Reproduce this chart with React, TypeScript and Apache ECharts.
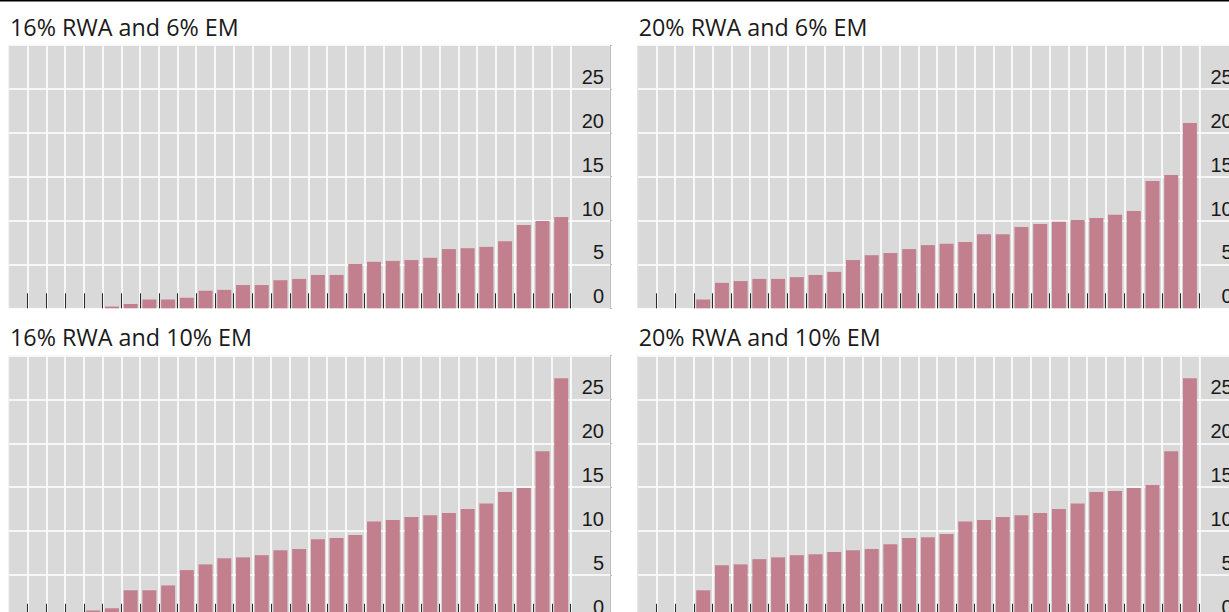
import { useEffect, useRef } from 'react';
import * as echarts from 'echarts';

// 30 banks, sorted by shortfall
const banks = ['1','2','3','4','5','6','7','8','9','10','11','12','13','14','15','16','17','18','19','20','21','22','23','24','25','26','27','28','29','30'];

const rwa16em6 = [0, 0, 0, 0, 0, 0.2, 0.5, 1.0, 1.0, 1.2, 2.0, 2.1, 2.65, 2.65, 3.2, 3.35, 3.8, 3.8, 5.05, 5.3, 5.4, 5.5, 5.75, 6.75, 6.85, 7.0, 7.65, 9.5, 9.95, 10.4];
const rwa20em6 = [0, 0, 0, 1.0, 2.9, 3.1, 3.35, 3.35, 3.55, 3.8, 4.15, 5.5, 6.05, 6.3, 6.75, 7.2, 7.35, 7.55, 8.45, 8.45, 9.25, 9.6, 9.85, 10.05, 10.3, 10.65, 11.1, 14.5, 15.2, 21.1];
const rwa16em10 = [0, 0, 0, 0, 0.95, 1.2, 3.25, 3.25, 3.8, 5.55, 6.2, 6.9, 7.0, 7.25, 7.8, 7.95, 9.05, 9.2, 9.55, 11.1, 11.25, 11.6, 11.8, 12.05, 12.5, 13.15, 14.45, 14.9, 19.1, 27.4];
const rwa20em10 = [0, 0, 0, 3.25, 6.1, 6.2, 6.8, 7.0, 7.25, 7.35, 7.6, 7.8, 7.95, 8.5, 9.2, 9.3, 9.65, 11.1, 11.25, 11.6, 11.8, 12.05, 12.5, 13.15, 14.45, 14.55, 14.9, 15.25, 19.1, 27.4];

const panelTitles = ['16% RWA and 6% EM', '20% RWA and 6% EM', '16% RWA and 10% EM', '20% RWA and 10% EM'];
const panelData = [rwa16em6, rwa20em6, rwa16em10, rwa20em10];

const yMin = 0;
const yMax = 30;
const yInterval = 5;
const yTickLabels = ['0', '5', '10', '15', '20', '25'];

const BAR = '#c2808f';
const BG = '#d9d9d9';

export default function App() {
  const ref = useRef<HTMLDivElement>(null);
  useEffect(() => {
    if (!ref.current) return;
    const chart = echarts.init(ref.current, undefined, { renderer: 'svg' });

    const W = 1229;
    const catW = 18.72;
    const plotW = catW * banks.length;
    const labelW = 39.4;
    const panelH = 263.3;
    const lefts = [9, 637.7];
    const tops = [45, 355.5];
    const titleY = [26.5, 336.5];

    const grid: any[] = [];
    const xAxis: any[] = [];
    const yAxis: any[] = [];
    const series: any[] = [];
    const graphic: any[] = [
      { type: 'rect', shape: { x: 0, y: 0, width: W, height: 1.5 }, style: { fill: '#000' }, z: 10 },
    ];

    panelData.forEach((data, k) => {
      const col = k % 2;
      const row = Math.floor(k / 2);
      const left = lefts[col];
      const top = tops[row];
      const gA = grid.length;
      const bLeft = left + plotW;
      grid.push({ left, top, width: plotW, height: panelH, outerBoundsMode: 'none', containLabel: false, show: true, backgroundColor: BG, borderColor: '#e4e4e4', borderWidth: 1 });
      grid.push({ left: bLeft, top, width: labelW, height: panelH, outerBoundsMode: 'none', containLabel: false, show: true, backgroundColor: BG, borderColor: '#e4e4e4', borderWidth: 1 });

      const showIdx = (i: number) => i >= 1;
      xAxis.push({
        type: 'category', gridIndex: gA, data: banks, boundaryGap: true,
        axisLine: { show: false },
        axisLabel: { show: false },
        axisTick: { show: true, inside: true, length: 15, interval: showIdx, lineStyle: { color: '#2a2a2a', width: 1 } },
        splitLine: { show: true, interval: showIdx, lineStyle: { color: '#ffffff', width: 1.6 } },
      });
      xAxis.push({ type: 'value', gridIndex: gA + 1, min: 0, max: 1, show: false });

      yAxis.push({
        type: 'value', gridIndex: gA, min: yMin, max: yMax, interval: yInterval,
        axisLine: { show: false }, axisTick: { show: false }, axisLabel: { show: false },
        splitLine: { show: true, lineStyle: { color: '#ffffff', width: 1.6 } },
      });
      yAxis.push({
        type: 'value', gridIndex: gA + 1, position: 'right', min: yMin, max: yMax, interval: yInterval,
        axisLine: { show: true, onZero: false, lineStyle: { color: '#bdbdbd', width: 1 } },
        axisTick: { show: true, length: 2, lineStyle: { color: '#bdbdbd' } },
        axisLabel: {
          show: true, inside: true, margin: 6, align: 'right', verticalAlign: 'bottom',
          padding: [0, 0, 2, 0],
          fontFamily: 'Liberation Sans', fontSize: 20, color: '#1a1a1a',
          formatter: (v: number) => {
            const idx = Math.round((v - yMin) / yInterval);
            return yTickLabels[idx] ?? '';
          },
        },
        splitLine: { show: true, lineStyle: { color: '#ffffff', width: 1.6 } },
      });

      series.push({
        type: 'bar', xAxisIndex: gA, yAxisIndex: gA, data, barWidth: 14,
        itemStyle: { color: BAR }, silent: true,
      });

      graphic.push({
        type: 'text', x: left + 1, y: titleY[row],
        style: { text: panelTitles[k], fontFamily: 'Open Sans', fontSize: 23.3, fill: '#1a1a1a', verticalAlign: 'middle' },
      });
    });

    chart.setOption({
      animation: false,
      grid, xAxis, yAxis, series, graphic,
    });
    return () => chart.dispose();
  }, []);
  return <div ref={ref} style={{ position: 'fixed', left: 0, top: 0, width: 1229, height: 612, background: '#fff' }} />;
}
